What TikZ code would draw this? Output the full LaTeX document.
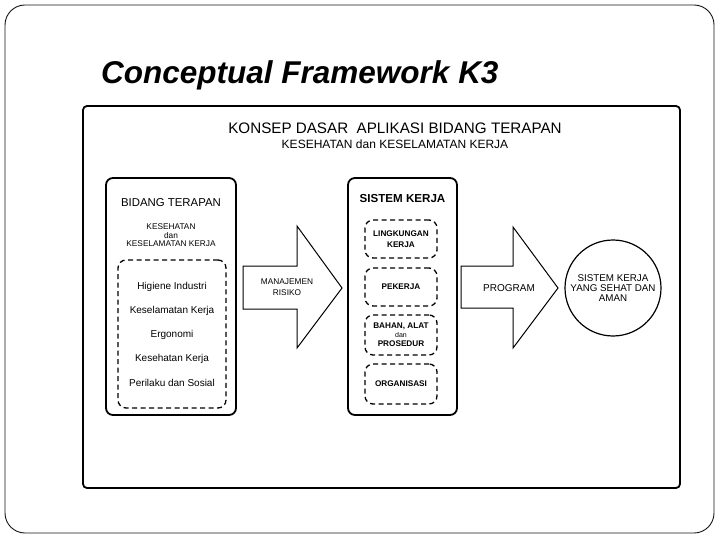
\documentclass[tikz,border=0pt]{standalone}
\usepackage{fontspec}
\setmainfont{Liberation Sans}
\usetikzlibrary{positioning}
\definecolor{mydark}{RGB}{20,20,20}
\tikzset{
  frame/.style={rectangle, draw=mydark, line width=0.9pt, rounded corners=20pt},
  mainbox/.style={rectangle, draw=black, line width=1.8pt, rounded corners=4pt},
  panel/.style={rectangle, draw=black, line width=1.8pt, rounded corners=7pt},
  dashbox/.style={rectangle, draw=black, line width=1.3pt,
    dash pattern=on 5pt off 3.5pt, rounded corners=8pt},
  bigarrow/.style={draw=black, line width=1pt, fill=white, line join=miter},
  goal/.style={circle, draw=black, line width=1.2pt, minimum size=96pt,
    align=center, inner sep=0pt, font=\fontsize{9.8}{10}\selectfont},
  head/.style={inner sep=0pt, font=\fontsize{11.4}{12}\selectfont},
  item/.style={inner sep=0pt, font=\fontsize{10}{12}\selectfont},
  small/.style={inner sep=0pt, align=center, font=\fontsize{8.3}{8.6}\selectfont},
  tag/.style={inner sep=0pt, align=center, font=\fontsize{8.2}{10.5}\selectfont\bfseries},
  arrowtext/.style={inner sep=0pt, align=center, font=\fontsize{8.3}{11}\selectfont}
}
\begin{document}
\begin{tikzpicture}[x=1pt, y=-1pt]
  \useasboundingbox (0,0) rectangle (720,540);

  % Slide frame and title
  \node[frame, minimum width=709pt, minimum height=528pt] (slide) at (359.5,269) {};
  \node[anchor=base west, inner sep=0pt,
    font=\fontsize{31.5}{36}\selectfont\bfseries\itshape] (title) at (101,84)
    {Conceptual Framework K3};

  % Main box
  \node[mainbox, minimum width=597pt, minimum height=382pt] (main) at (381.5,297) {};
  \node[inner sep=0pt, font=\fontsize{15.2}{17}\selectfont] (hdr) at (395,128)
    {KONSEP DASAR\ \ APLIKASI BIDANG TERAPAN};
  \node[inner sep=0pt, font=\fontsize{12}{13}\selectfont, below=6.5pt of hdr] (subhdr)
    {KESEHATAN dan KESELAMATAN KERJA};

  % Bidang terapan
  \node[panel, minimum width=130pt, minimum height=237pt] (bidang) at (171,296.5) {};
  \node[head] (bidanghdr) at (171,203) {BIDANG TERAPAN};
  \node[small] (k3) at (171,235.5) {KESEHATAN\\dan\\KESELAMATAN KERJA};
  \node[dashbox, minimum width=108pt, minimum height=148pt] (fields) at (172,334) {};
  \foreach \txt [count=\i] in {Higiene Industri, Keselamatan Kerja, Ergonomi,
      Kesehatan Kerja, Perilaku dan Sosial}
    \node[item] (item\i) at (172,263+24*\i) {\txt};

  % Manajemen risiko
  \draw[bigarrow] (243,266) -- (297,266) -- (297,226) -- (342,288)
    -- (297,348) -- (297,309) -- (243,309) -- cycle;
  \node[arrowtext] (risk) at (287,287) {MANAJEMEN\\RISIKO};

  % Sistem kerja
  \node[panel, minimum width=109pt, minimum height=237pt] (sistem) at (402.5,296.5) {};
  \node[head, font=\fontsize{11.6}{12}\selectfont\bfseries] (sistemhdr) at (402.5,199)
    {SISTEM KERJA};
  \node[dashbox, minimum width=72pt, minimum height=38pt] (env) at (401,239) {};
  \node[dashbox, minimum width=72pt, minimum height=38pt] (worker) at (401,287) {};
  \node[dashbox, minimum width=72pt, minimum height=40pt] (tools) at (401,335) {};
  \node[dashbox, minimum width=72pt, minimum height=40pt] (org) at (401,384) {};
  \node[tag] at (env) {LINGKUNGAN\\KERJA};
  \node[tag] at (worker) {PEKERJA};
  \node[tag, font=\fontsize{8.2}{9}\selectfont\bfseries] at (tools)
    {BAHAN, ALAT\\{\fontsize{7}{9}\selectfont\mdseries dan}\\PROSEDUR};
  \node[tag] at (org) {ORGANISASI};

  % Program
  \draw[bigarrow] (461,266) -- (513,266) -- (513,227) -- (558,288)
    -- (513,348) -- (513,308) -- (461,308) -- cycle;
  \node[arrowtext, font=\fontsize{10}{11}\selectfont] (prog) at (509,288) {PROGRAM};

  % Tujuan
  \node[goal] (aman) at (613,288) {SISTEM KERJA\\YANG SEHAT DAN\\AMAN};
\end{tikzpicture}
\end{document}
